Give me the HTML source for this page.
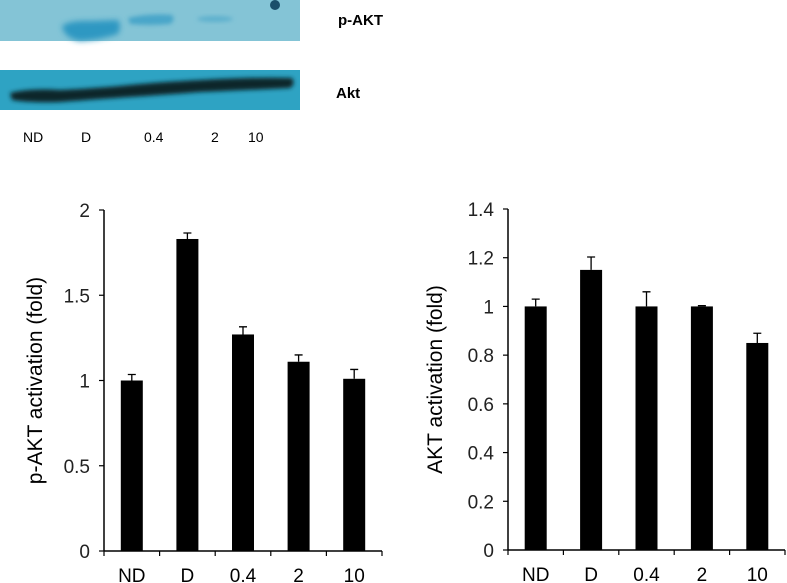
<!DOCTYPE html>
<html><head><meta charset="utf-8"><style>
html,body{margin:0;padding:0;background:#fff;width:787px;height:583px;overflow:hidden;font-family:"Liberation Sans",sans-serif}
svg{position:absolute;left:0;top:0}
</style></head><body>
<svg id="s" width="787" height="583">
<defs>
<filter id="blur" x="-20%" y="-50%" width="140%" height="200%"><feGaussianBlur stdDeviation="3"/></filter>
<filter id="blur2" x="-20%" y="-50%" width="140%" height="200%"><feGaussianBlur stdDeviation="2"/></filter>
</defs>
<g>
<rect x="0" y="0" width="300" height="41" fill="#84c4d6"/>
<path d="M62,26 Q70,20 90,21 L118,20 Q122,26 118,34 Q100,40 80,41 Q64,38 62,26 Z" fill="#2e98c2" filter="url(#blur)"/>
<path d="M128,18 Q150,13 172,15 Q176,20 170,24 Q150,26 130,24 Z" fill="#3a9fc6" opacity="0.8" filter="url(#blur2)"/>
<ellipse cx="215" cy="19" rx="18" ry="3" fill="#5db0cd" filter="url(#blur2)"/>
<circle cx="275" cy="5" r="5" fill="#1a4e6a"/>
<rect x="0" y="70" width="300" height="40" fill="#2ea3c3"/>
<path d="M10,93 Q30,88 60,90 Q100,88 130,85 Q160,82 200,80 Q250,77 292,78 Q296,84 290,88 Q250,90 200,92 Q160,95 130,97 Q100,99 60,102 Q30,103 12,100 Z" fill="#10262b" filter="url(#blur2)"/>
<text x="338" y="25" font-size="15" font-weight="bold">p-AKT</text>
<text x="336" y="98" font-size="15" font-weight="bold">Akt</text>
<g font-size="14">
<text x="23" y="142">ND</text>
<text x="81" y="142">D</text>
<text x="144" y="142">0.4</text>
<text x="211" y="142">2</text>
<text x="248" y="142">10</text>
</g>
</g>
</svg>
<script>
const categories=["ND","D","0.4","2","10"];
const pAktValues=[1.0,1.83,1.27,1.11,1.01];
const pAktErrors=[0.035,0.035,0.045,0.04,0.055];
const pAktTicks=[0,0.5,1,1.5,2];
const pAktTickLabels=["0","0.5","1","1.5","2"];
const aktValues=[1.0,1.15,1.0,1.0,0.85];
const aktErrors=[0.03,0.053,0.06,0.003,0.04];
const aktTicks=[0,0.2,0.4,0.6,0.8,1.0,1.2,1.4];
const aktTickLabels=["0","0.2","0.4","0.6","0.8","1","1.2","1.4"];
const NS="http://www.w3.org/2000/svg";
const svg=document.getElementById('s');
function mk(t,a,p){const e=document.createElementNS(NS,t);for(const k in a)e.setAttribute(k,a[k]);(p||svg).appendChild(e);return e;}
function chart(o){
  const g=mk('g',{});
  
  
  const y=v=>o.y0-(v/o.ymax)*(o.y0-o.y1);
  const step=(o.xEnd-o.x0)/categories.length;
  const xc=i=>o.x0+step*(i+0.5);
  const ax=mk('line',{x1:o.x0,y1:o.y1,x2:o.x0,y2:o.y0,stroke:'#000','stroke-width':1.5},g);
  
  
  const bx=mk('line',{x1:o.x0,y1:o.y0,x2:o.xEnd,y2:o.y0,stroke:'#000','stroke-width':1.5},g);
  
  
  o.ticks.forEach((t,i)=>{
    const l=mk('line',{x1:o.x0-5,x2:o.x0,y1:y(t),y2:y(t),stroke:'#000','stroke-width':1.2},g);
    
    
    const tx=mk('text',{x:o.x0-14,y:y(t)+7,'text-anchor':'end','font-size':19,fill:'#222'},g);
    tx.textContent=o.labels[i];
    
    
  });
  for(let i=0;i<=categories.length;i++){
    const xx=o.x0+step*i;
    const l=mk('line',{x1:xx,x2:xx,y1:o.y0,y2:o.y0+5,stroke:'#000','stroke-width':1.2},g);
    
    
  }
  categories.forEach((c,i)=>{
    const bw=22, v=o.vals[i], e=o.errs[i];
    const r=mk('rect',{x:xc(i)-bw/2,y:y(v),width:bw,height:o.y0-y(v),fill:'#000'},g);
    
    
    const el=mk('path',{d:`M${xc(i)},${y(v)} V${y(v+e)} M${xc(i)-4},${y(v+e)} H${xc(i)+4}`,stroke:'#000','stroke-width':1.3,fill:'none'},g);
    
    
    const tx=mk('text',{x:xc(i),y:o.y0+31,'text-anchor':'middle','font-size':19,fill:'#000'},g);
    tx.textContent=c;
    
    
  });
  const tt=mk('text',{x:0,y:0,'text-anchor':'middle','font-size':21,fill:'#000',transform:`translate(${o.titleX},${(o.y0+o.y1)/2}) rotate(-90)`},g);
  tt.textContent=o.title;
  
  
}
chart({name:'p-akt-chart',x0:104,xEnd:382,y0:551,y1:210,ymax:2,vals:pAktValues,errs:pAktErrors,ticks:pAktTicks,labels:pAktTickLabels,title:'p-AKT activation (fold)',titleX:42});
chart({name:'akt-chart',x0:508,xEnd:785,y0:550,y1:209,ymax:1.4,vals:aktValues,errs:aktErrors,ticks:aktTicks,labels:aktTickLabels,title:'AKT activation (fold)',titleX:442});
</script>
</body></html>
